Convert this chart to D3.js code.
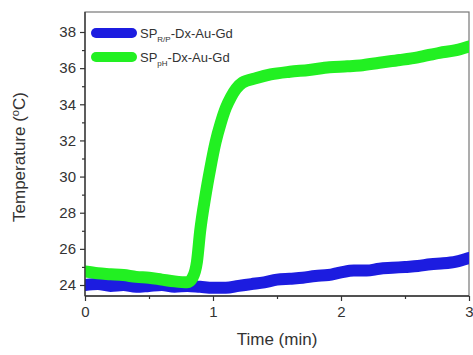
<!DOCTYPE html>
<html>
<head>
<meta charset="utf-8">
<script src="https://cdn.jsdelivr.net/npm/d3@7"></script>
<style>
  body { margin: 0; background: #fff; }
  svg { font-family: Arial, "Liberation Sans", sans-serif; }
</style>
</head>
<body>
<svg width="473" height="355"></svg>
<script>
// readings: time (min) and temperature (degC)
const blueTime = [0, 0.1, 0.2, 0.3, 0.4, 0.5, 0.6, 0.7, 0.8, 0.9, 1.0, 1.1, 1.2, 1.3, 1.4, 1.5, 1.6, 1.7, 1.8, 1.9, 2.0, 2.1, 2.2, 2.3, 2.4, 2.5, 2.6, 2.7, 2.8, 2.9, 3.0];
const blueTemp = [24.0, 24.05, 23.95, 24.0, 23.9, 23.95, 24.0, 23.9, 23.95, 23.9, 23.85, 23.85, 23.95, 24.05, 24.15, 24.3, 24.35, 24.4, 24.5, 24.55, 24.7, 24.8, 24.8, 24.9, 24.95, 25.0, 25.05, 25.15, 25.2, 25.3, 25.5];
const greenTime = [0, 0.1, 0.2, 0.3, 0.4, 0.5, 0.6, 0.7, 0.8, 0.84, 0.875, 0.9, 0.94, 0.98, 1.02, 1.06, 1.1, 1.14, 1.18, 1.23, 1.34, 1.45, 1.6, 1.75, 1.91, 2.05, 2.15, 2.3, 2.46, 2.6, 2.77, 2.9, 3.0];
const greenTemp = [24.75, 24.65, 24.6, 24.55, 24.45, 24.4, 24.3, 24.2, 24.15, 24.4, 25.3, 27.0, 28.9, 30.5, 31.9, 32.95, 33.8, 34.4, 34.85, 35.2, 35.45, 35.65, 35.8, 35.9, 36.05, 36.1, 36.15, 36.3, 36.45, 36.6, 36.85, 37.0, 37.2];
const xTicks = [0, 1, 2, 3];
const yTicks = [24, 26, 28, 30, 32, 34, 36, 38];
const seriesNames = [["SP", "R/P", "-Dx-Au-Gd"], ["SP", "pH", "-Dx-Au-Gd"]];
const seriesColors = ["#1c1ce0", "#22f022"];

const svg = d3.select("svg");
const pl = 85, pr = 469, pt = 12, pb = 296;

const x = d3.scaleLinear().domain([0, 3]).range([pl, pr]);
const y = d3.scaleLinear().domain([24, 38]).range([285, 32]);

svg.append("defs").append("clipPath").attr("id", "clip")
  .append("rect").attr("x", pl).attr("y", pt)
  .attr("width", pr - pl).attr("height", pb - pt);

// frame
svg.append("rect").attr("x", pl).attr("y", pt)
  .attr("width", pr - pl).attr("height", pb - pt)
  .attr("fill", "none").attr("stroke", "#777").attr("stroke-width", 1.2);

const line = d3.line().x(d => x(d[0])).y(d => y(d[1])).curve(d3.curveMonotoneX);

const plot = svg.append("g").attr("clip-path", "url(#clip)");
plot.append("path")
  .datum(blueTime.map((t, i) => [t, blueTemp[i]]))
  .attr("d", line).attr("fill", "none")
  .attr("stroke", seriesColors[0]).attr("stroke-width", 12)
  .attr("stroke-linejoin", "round").attr("stroke-linecap", "round");
plot.append("path")
  .datum(greenTime.map((t, i) => [t, greenTemp[i]]))
  .attr("d", line).attr("fill", "none")
  .attr("stroke", seriesColors[1]).attr("stroke-width", 12)
  .attr("stroke-linejoin", "round").attr("stroke-linecap", "round");

// axes
svg.append("g").attr("transform", `translate(${pl},0)`)
  .call(d3.axisLeft(y).tickValues(yTicks).tickSize(5).tickPadding(4).tickFormat(d3.format("d")));
svg.append("g").attr("transform", `translate(${pl},0)`)
  .call(d3.axisLeft(y).tickValues(d3.range(25, 39, 2)).tickSize(3).tickFormat(""));
svg.append("g").attr("transform", `translate(0,${pb})`)
  .call(d3.axisBottom(x).tickValues(xTicks).tickSize(5).tickPadding(5).tickFormat(d3.format("d")));
svg.append("g").attr("transform", `translate(0,${pb})`)
  .call(d3.axisBottom(x).tickValues([0.5, 1.5, 2.5]).tickSize(3).tickFormat(""));

svg.selectAll(".domain").remove();
svg.append("line").attr("x1", pl).attr("x2", pl).attr("y1", pt).attr("y2", pb)
  .attr("stroke", "#333").attr("stroke-width", 1.3);
svg.append("line").attr("x1", pl).attr("x2", pr).attr("y1", pb).attr("y2", pb)
  .attr("stroke", "#333").attr("stroke-width", 1.3);
svg.selectAll(".tick line").attr("stroke", "#333").attr("stroke-width", 1.2);
svg.selectAll(".tick text").attr("font-size", 15).attr("fill", "#333")
  .attr("font-family", "Arial, 'Liberation Sans', sans-serif");

// axis titles
const yt = svg.append("text").attr("transform", "translate(25,157) rotate(-90)")
  .attr("text-anchor", "middle").attr("font-size", 17).attr("fill", "#333");
yt.append("tspan").text("Temperature (");
yt.append("tspan").attr("font-size", 11).attr("dy", -6).text("o");
yt.append("tspan").attr("dy", 6).text("C)");

svg.append("text").attr("x", 277).attr("y", 345).attr("text-anchor", "middle")
  .attr("font-size", 17).attr("fill", "#333").text("Time (min)");

// legend
seriesNames.forEach((n, i) => {
  const ly = 33 + i * 24;
  svg.append("line").attr("x1", 96).attr("x2", 132).attr("y1", ly).attr("y2", ly)
    .attr("stroke", seriesColors[i]).attr("stroke-width", 10).attr("stroke-linecap", "round");
  const t = svg.append("text").attr("x", 140).attr("y", ly + 5)
    .attr("font-size", 13).attr("fill", "#333");
  t.append("tspan").text(n[0]);
  t.append("tspan").attr("font-size", 8).attr("dy", 4).text(n[1]);
  t.append("tspan").attr("dy", -4).text(n[2]);
});
</script>
</body>
</html>
